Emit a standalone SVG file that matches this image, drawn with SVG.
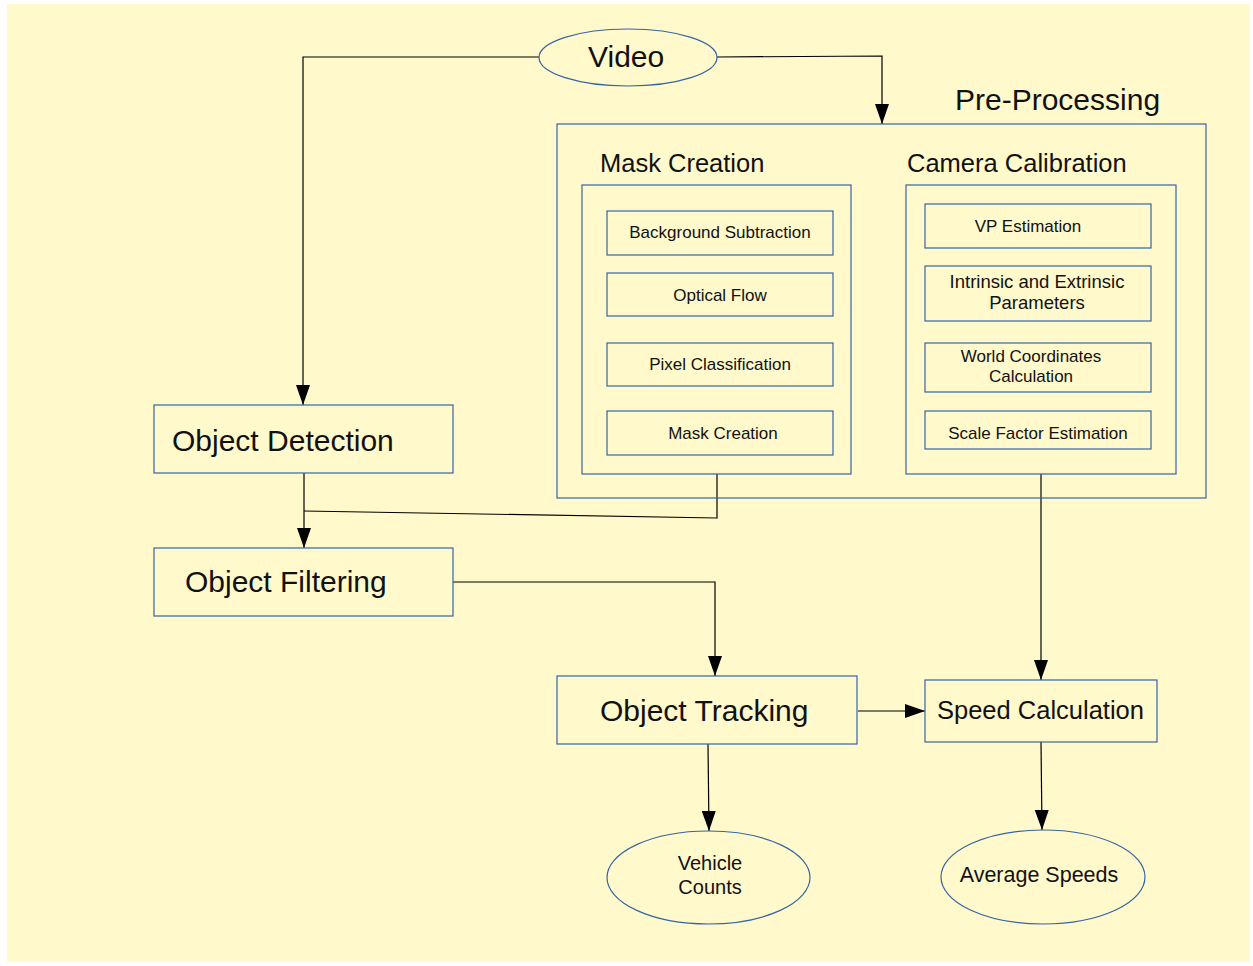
<svg xmlns="http://www.w3.org/2000/svg" width="1253" height="966" viewBox="0 0 1253 966">
  <style>
    .box { fill: none; stroke: #3465a4; stroke-width: 1.2; }
    .oval { fill: none; stroke: #3465a4; stroke-width: 1.2; }
    .edge { fill: none; stroke: #000; stroke-width: 1.2; }
    text { font-family: "Liberation Sans", Arial, sans-serif; fill: #111; }
    .big { font-size: 30px; }
    .mid { font-size: 25.5px; }
    .small { font-size: 17px; text-anchor: middle; }
    .oval-t { font-size: 20px; text-anchor: middle; }
  </style>
  <defs>
    <marker id="arrow" viewBox="0 0 20 14" refX="20" refY="7" markerWidth="20" markerHeight="14" markerUnits="userSpaceOnUse" orient="auto">
      <path d="M0,0 L20,7 L0,14 Z" fill="#000"/>
    </marker>
  </defs>

  <rect x="0" y="0" width="1253" height="966" fill="#ffffff"/>
  <rect x="7" y="4" width="1243" height="958" fill="#fff9cc"/>

  <g id="connectors">
    <path class="edge" d="M539,57 H303 V405" marker-end="url(#arrow)"/>
    <path class="edge" d="M717,57 L882,56 V124" marker-end="url(#arrow)"/>
    <path class="edge" d="M304,473 V548" marker-end="url(#arrow)"/>
    <path class="edge" d="M717,474 V518 L304,511"/>
    <path class="edge" d="M453,582 H715 V676" marker-end="url(#arrow)"/>
    <path class="edge" d="M1041,474 V680" marker-end="url(#arrow)"/>
    <path class="edge" d="M858,711 H925" marker-end="url(#arrow)"/>
    <path class="edge" d="M708,744 L709,831" marker-end="url(#arrow)"/>
    <path class="edge" d="M1041,742 L1042,830" marker-end="url(#arrow)"/>
  </g>

  <g id="video">
    <ellipse class="oval" cx="628" cy="57.5" rx="89" ry="28.5"/>
    <text class="big" x="588" y="67">Video</text>
  </g>

  <g id="pre-processing">
    <rect class="box" x="557" y="124" width="649" height="374"/>
    <text class="big" x="955" y="110">Pre-Processing</text>
  </g>

  <g id="mask-creation-group">
    <rect class="box" x="582" y="185" width="269" height="289"/>
    <text class="mid" x="600" y="172">Mask Creation</text>
  </g>

  <g id="background-subtraction">
    <rect class="box" x="607" y="211" width="226" height="44"/>
    <text class="small" x="720" y="238">Background Subtraction</text>
  </g>
  <g id="optical-flow">
    <rect class="box" x="607" y="273" width="226" height="43"/>
    <text class="small" x="720" y="301">Optical Flow</text>
  </g>
  <g id="pixel-classification">
    <rect class="box" x="607" y="343" width="226" height="43"/>
    <text class="small" x="720" y="370">Pixel Classification</text>
  </g>
  <g id="mask-creation">
    <rect class="box" x="607" y="411" width="226" height="44"/>
    <text class="small" x="723" y="439">Mask Creation</text>
  </g>

  <g id="camera-calibration-group">
    <rect class="box" x="906" y="185" width="270" height="289"/>
    <text class="mid" x="907" y="172">Camera Calibration</text>
  </g>

  <g id="vp-estimation">
    <rect class="box" x="925" y="204" width="226" height="44"/>
    <text class="small" x="1028" y="232">VP Estimation</text>
  </g>
  <g id="intrinsic-extrinsic">
    <rect class="box" x="925" y="266" width="226" height="55"/>
    <text class="small" x="1037" y="288" style="font-size:18.5px">Intrinsic and Extrinsic</text>
    <text class="small" x="1037" y="309" style="font-size:18.5px">Parameters</text>
  </g>
  <g id="world-coordinates">
    <rect class="box" x="925" y="343" width="226" height="49"/>
    <text class="small" x="1031" y="362">World Coordinates</text>
    <text class="small" x="1031" y="382">Calculation</text>
  </g>
  <g id="scale-factor">
    <rect class="box" x="925" y="411" width="226" height="38"/>
    <text class="small" x="1038" y="439">Scale Factor Estimation</text>
  </g>

  <g id="object-detection">
    <rect class="box" x="154" y="405" width="299" height="68"/>
    <text class="big" x="172" y="451">Object Detection</text>
  </g>
  <g id="object-filtering">
    <rect class="box" x="154" y="548" width="299" height="68"/>
    <text class="big" x="185" y="592">Object Filtering</text>
  </g>
  <g id="object-tracking">
    <rect class="box" x="557" y="676" width="300" height="68"/>
    <text class="big" x="600" y="721">Object Tracking</text>
  </g>
  <g id="speed-calculation">
    <rect class="box" x="925" y="680" width="232" height="62"/>
    <text class="mid" x="937" y="719">Speed Calculation</text>
  </g>

  <g id="vehicle-counts">
    <ellipse class="oval" cx="708.5" cy="877.5" rx="101.5" ry="46.5"/>
    <text class="oval-t" x="710" y="870">Vehicle</text>
    <text class="oval-t" x="710" y="894">Counts</text>
  </g>
  <g id="average-speeds">
    <ellipse class="oval" cx="1043" cy="877" rx="102" ry="47"/>
    <text class="oval-t" x="1039" y="882" style="font-size:21.5px">Average Speeds</text>
  </g>
</svg>
